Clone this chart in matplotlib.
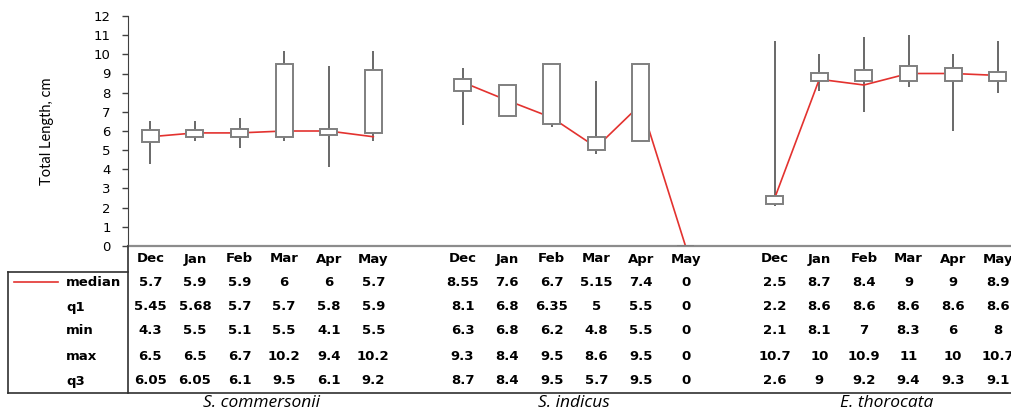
import numpy as np
import matplotlib.pyplot as plt
from matplotlib.transforms import blended_transform_factory

# data
months = ["Dec", "Jan", "Feb", "Mar", "Apr", "May"]
species = ["S. commersonii", "S. indicus", "E. thorocata"]

median = [[5.7, 5.9, 5.9, 6, 6, 5.7],
          [8.55, 7.6, 6.7, 5.15, 7.4, 0],
          [2.5, 8.7, 8.4, 9, 9, 8.9]]
q1 = [[5.45, 5.68, 5.7, 5.7, 5.8, 5.9],
      [8.1, 6.8, 6.35, 5, 5.5, 0],
      [2.2, 8.6, 8.6, 8.6, 8.6, 8.6]]
vmin = [[4.3, 5.5, 5.1, 5.5, 4.1, 5.5],
        [6.3, 6.8, 6.2, 4.8, 5.5, 0],
        [2.1, 8.1, 7, 8.3, 6, 8]]
vmax = [[6.5, 6.5, 6.7, 10.2, 9.4, 10.2],
        [9.3, 8.4, 9.5, 8.6, 9.5, 0],
        [10.7, 10, 10.9, 11, 10, 10.7]]
q3 = [[6.05, 6.05, 6.1, 9.5, 6.1, 9.2],
      [8.7, 8.4, 9.5, 5.7, 9.5, 0],
      [2.6, 9, 9.2, 9.4, 9.3, 9.1]]

rows = [("median", median), ("q1", q1), ("min", vmin), ("max", vmax), ("q3", q3)]

W, H = 1011, 412
fig = plt.figure(figsize=(W / 100, H / 100), dpi=100)
# axes runs a little past the right edge, like the cropped original
ax = fig.add_axes([128 / W, 1 - 246 / H, (1020 - 128) / W, (246 - 16) / H])

red = "#e3322f"
box_w = 0.38
for g in range(3):
    xs = np.arange(6) + g * 7
    ax.plot(xs, median[g], color=red, lw=1.2, zorder=2)
    for i, x in enumerate(xs):
        ax.vlines(x, vmin[g][i], vmax[g][i], color="#404040", lw=1.1, zorder=1)
        lo, hi = sorted([q1[g][i], q3[g][i]])
        ax.add_patch(plt.Rectangle((x - box_w / 2, lo), box_w, hi - lo,
                                   facecolor="white", edgecolor="#7f7f7f",
                                   lw=1.4, zorder=3))

ax.set_xlim(-0.5, 19.5)
ax.set_ylim(0, 12)
ax.set_yticks(range(13))
ax.set_xticks([])
ax.tick_params(axis="y", direction="out", length=4.5, width=1, color="#404040",
               labelsize=9.5, pad=8)
for s in ["top", "right"]:
    ax.spines[s].set_visible(False)
ax.spines["left"].set_color("#404040")
ax.spines["bottom"].set_color("#8c8c8c")
ax.spines["bottom"].set_linewidth(1.6)
fig.text(47 / W, 1 - 131 / H, "Total Length, cm", family="Lato", fontsize=10.5,
         rotation=90, ha="center", va="center")

# data table below the axis
tr = blended_transform_factory(ax.transData, fig.transFigure)
bold = dict(fontsize=9.5, fontweight="bold", ha="center", va="center",
            transform=tr, clip_on=False)
yc = 1 - 259 / H
for g in range(3):
    for i, m in enumerate(months):
        ax.text(i + g * 7, yc, m, **bold)
row_y = [282, 307, 331, 356, 381]
for (name, vals), ry in zip(rows, row_y):
    fy = 1 - ry / H
    fig.text(66 / W, fy, name, fontsize=9.5, fontweight="bold", va="center")
    for g in range(3):
        for i in range(6):
            ax.text(i + g * 7, fy, f"{vals[g][i]:g}", **bold)
fig.add_artist(plt.Line2D([14 / W, 58 / W], [1 - 282 / H] * 2, color=red, lw=1.2))

for g, sp in enumerate(species):
    ax.text(2.5 + g * 7, 1 - 403 / H, sp, family="Open Sans", style="italic",
            fontsize=12.5, ha="center", va="center", transform=tr, clip_on=False)

# table borders
lc = "#303030"
fig.add_artist(plt.Line2D([8 / W, 128 / W], [1 - 272 / H] * 2, color=lc, lw=1.2))
fig.add_artist(plt.Line2D([8 / W, 8 / W], [1 - 272 / H, 1 - 393 / H], color=lc, lw=1.2))
fig.add_artist(plt.Line2D([8 / W, 1], [1 - 393 / H] * 2, color=lc, lw=1.2))
fig.add_artist(plt.Line2D([128 / W, 128 / W], [1 - 246 / H, 1 - 393 / H], color=lc, lw=1.2))

fig.savefig("out.png", dpi=100)
